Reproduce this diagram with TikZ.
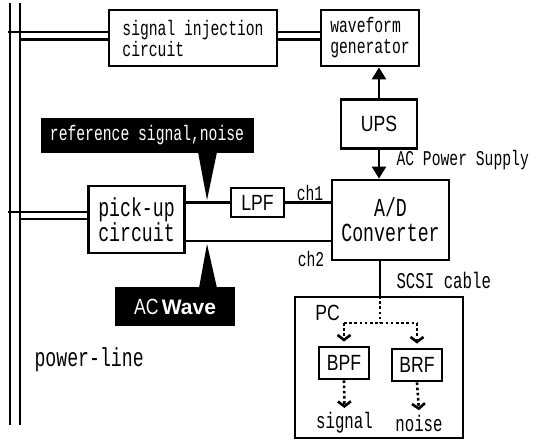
\documentclass[tikz,border=0pt]{standalone}
\usepackage{fontspec}
\usepackage{tikz}
\usetikzlibrary{arrows.meta, positioning}
\newfontfamily\monof[FakeStretch=0.7]{Liberation Mono}
\newfontfamily\gothf[FakeStretch=0.8]{Liberation Sans}
\newfontfamily\heavyf{Liberation Sans}

\begin{document}
\begin{tikzpicture}[
  x=1pt, y=-1pt,
  box/.style={rectangle, draw=black, line width=2.8pt, fill=white, inner sep=0pt, align=center},
  tagbox/.style={rectangle, fill=black, text=white, inner sep=0pt},
  wire/.style={line width=2.1pt},
  power/.style={-{Triangle[length=12pt, width=14pt]}, line width=2.4pt},
  dotline/.style={line width=2.6pt, dash pattern=on 2.6pt off 2.6pt},
  dotarrow/.style={dotline, -{Straight Barb[length=5pt, width=13pt]}},
  monosm/.style={font=\monof\fontsize{21}{21}\selectfont},
  monomd/.style={font=\monof\fontsize{26}{25}\selectfont},
  monolg/.style={font=\monof\fontsize{22.5}{22}\selectfont},
  goth/.style={font=\gothf\fontsize{22}{22}\selectfont},
]
\useasboundingbox (0,0) rectangle (538,445);

% power-line
\coordinate (plAtop) at (10,3);
\coordinate (plAbot) at (10,425);
\coordinate (plBtop) at (20,3);
\coordinate (plBbot) at (20,425);
\draw[wire] (plAtop) -- (plAbot);
\draw[wire] (plBtop) -- (plBbot);
\node[monomd, anchor=west] (pwrlbl) at (31,360) {power-line};

% Row 1
\node[box, monosm, align=left, minimum width=168pt, minimum height=56pt] (inj) at (193,38) {signal injection\\circuit};
\node[box, monosm, align=left, minimum width=98pt, minimum height=56pt] (wave) at (370,38) {waveform\\generator};
\node[box, goth, minimum width=76pt, minimum height=49pt] (ups) at (379,124) {UPS};

% Row 2
\node[box, monomd, minimum width=96pt, minimum height=67pt] (pick) at (136.5,219.5) {pick-up\\circuit};
\node[box, goth, minimum width=53pt, minimum height=29pt] (lpf) at (257.5,202.5) {LPF};
\node[box, monomd, minimum width=117pt, minimum height=80pt] (ad) at (390.5,220) {A/D\\Converter};
\node[monosm] (chone) at (310,193) {ch1};
\node[monosm] (chtwo) at (311,259) {ch2};
\node[monosm, anchor=west] (aclbl) at (393,160) {AC Power Supply};

% tags
\node[tagbox, monosm, minimum width=213pt, minimum height=35pt] (refsig) at (147,135.5) {reference signal,noise};
\node[tagbox, minimum width=120pt, minimum height=39pt] (acwave) at (175,306.5) {{\gothf\fontsize{22}{22}\selectfont AC} {\heavyf\bfseries\fontsize{21}{22}\selectfont Wave}};
\fill (198,152) -- (217,152) -- (207,200) -- cycle;
\fill (199,288) -- (217,288) -- (207,244) -- cycle;

% PC
\node[box, line width=2.2pt, minimum width=168pt, minimum height=141pt] (pc) at (379,367.5) {};
\node[goth] (pclbl) at (327.5,313) {PC};
\node[box, goth, line width=2.8pt, minimum width=50pt, minimum height=32pt] (bpf) at (344,363) {BPF};
\node[box, goth, line width=2.8pt, minimum width=50pt, minimum height=32pt] (brf) at (417,365) {BRF};
\node[monolg] (sig) at (344.5,423) {signal};
\node[monolg] (noi) at (419,423) {noise};
\node[monolg, anchor=west] (scsilbl) at (393,280) {SCSI cable};
\coordinate (split) at (380,323);

% taps on the power-line
\coordinate (injA) at (8,32);
\coordinate (injB) at (20,39.5);
\coordinate (pickA) at (8,212);
\coordinate (pickB) at (20,219);

% Arrows
\draw[wire] (injA) -- (injA -| inj.west);
\draw[wire] (injB) -- (injB -| inj.west);
\draw[wire] (injA -| inj.east) -- (injA -| wave.west);
\draw[wire] (injB -| inj.east) -- (injB -| wave.west);
\draw[wire] (pickA) -- (pickA -| pick.west);
\draw[wire] (pickB) -- (pickB -| pick.west);
\draw[power] (ups.north) -- (ups.north |- wave.south);
\draw[power] (ups.south) -- (ups.south |- ad.north);
\draw[wire] (pick.east |- lpf) -- (lpf.west);
\draw[wire] (lpf.east) -- (lpf -| ad.west);
\draw[wire] ([yshift=-21.5pt]pick.east) -- ([yshift=-21.5pt]pick.east -| ad.west);
\draw[wire] (ad.south -| split) -- (pc.north -| split);
\draw[dotline] (pc.north -| split) -- (split);
\draw[dotline] (bpf.north |- split) -- (brf.north |- split);
\draw[dotarrow, shorten >=4pt] (bpf.north |- split) -- (bpf.north);
\draw[dotarrow, shorten >=4pt] (brf.north |- split) -- (brf.north);
\draw[dotarrow, shorten >=1pt] (bpf.south) -- (sig.north);
\draw[dotarrow, shorten >=1pt] (brf.south) -- (noi.north);

\end{tikzpicture}
\end{document}
